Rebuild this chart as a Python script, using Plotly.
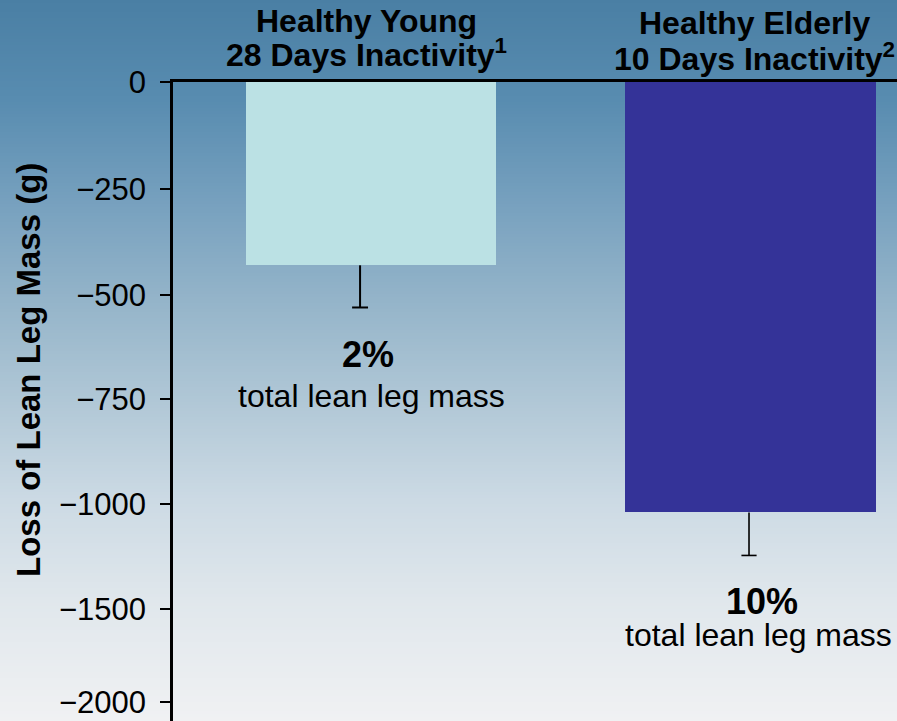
import numpy as np
import plotly.graph_objects as go

# ---------------- data ----------------
groups = ["Healthy Young", "Healthy Elderly"]
durations = ["28 Days Inactivity", "10 Days Inactivity"]
refs = ["1", "2"]
loss_g = [-430, -1040]
err_g = [100, 205]
pct_labels = ["2%", "10%"]
pct_caption = ["total lean leg mass", "total lean leg mass"]
tick_values = [0, -250, -500, -750, -1000, -1500, -2000]
tick_labels = ["0", "\u2212250", "\u2212500", "\u2212750", "\u22121000", "\u22121500", "\u22122000"]

# ---------------- layout constants ----------------
W, H = 897, 721
M_L, M_T = 173, 82
PLOT_W, PLOT_H = W - M_L, H - M_T
# non-linear (piecewise) axis: position of each tick along the axis (axis units = px)
TICK_POS = [0, -107, -213, -317, -422, -527, -620]
X_RANGE = [-0.522, 1.386]
BAR_W = 0.66
ERR_SHIFT = [-0.029, -0.004]
CAP_HALF = [0.021, 0.020]
ERR_THICK = [2, 1.6]
BAR_COLORS = ["#bbe1e4", "#343398"]
FONT = "Arial, Liberation Sans, sans-serif"


def to_axis(v):
    xp = np.array(tick_values[::-1], dtype=float)
    fp = np.array(TICK_POS[::-1], dtype=float)
    return np.interp(np.asarray(v, dtype=float), xp, fp)


def px(p):
    return (p - M_L) / PLOT_W


def py(p):
    return (H - p) / PLOT_H


fig = go.Figure()

xs = list(range(len(groups)))
fig.add_trace(go.Bar(
    x=xs, y=to_axis(loss_g), width=BAR_W,
    marker=dict(color=BAR_COLORS, line=dict(width=0)),
    hoverinfo="skip", showlegend=False,
))

for i in xs:
    tip = to_axis(loss_g[i] - err_g[i])
    top = to_axis(loss_g[i])
    fig.add_trace(go.Scatter(
        x=[i + ERR_SHIFT[i]], y=[tip], mode="markers",
        marker=dict(size=1, opacity=0),
        error_y=dict(type="data", symmetric=False, array=[top - tip], arrayminus=[0],
                     width=0, thickness=ERR_THICK[i], color="black"),
        error_x=dict(type="data", symmetric=True, array=[CAP_HALF[i]],
                     width=0, thickness=ERR_THICK[i], color="black"),
        hoverinfo="skip", showlegend=False,
    ))

# ---------------- background gradient ----------------
stops_px = [0, 100, 200, 300, 400, 500, 600, 721]
stops_rgb = [(74, 127, 164), (88, 140, 176), (118, 160, 190), (148, 180, 201),
             (176, 199, 214), (204, 218, 228), (224, 231, 236), (240, 241, 243)]
shapes = []
step = 3
for y0 in range(0, H, step):
    yc = y0 + step / 2
    rgb = [int(round(np.interp(yc, stops_px, [c[k] for c in stops_rgb]))) for k in range(3)]
    shapes.append(dict(type="rect", xref="paper", yref="paper", layer="below",
                       x0=px(0), x1=px(W), y0=py(y0 + step + 0.5), y1=py(y0),
                       fillcolor="rgb(%d,%d,%d)" % tuple(rgb), line=dict(width=0)))

annotations = []
hdr_y = [(21, 52.5), (22.5, 57)]
hdr_x = [366, 754]
for i in xs:
    annotations.append(dict(text="<b>%s</b>" % groups[i], x=px(hdr_x[i]), y=py(hdr_y[i][0]),
                            xref="paper", yref="paper", showarrow=False,
                            xanchor="center", yanchor="middle",
                            font=dict(size=32, color="black", family=FONT)))
    annotations.append(dict(text="<b>%s<sup>%s</sup></b>" % (durations[i], refs[i]),
                            x=px(hdr_x[i]), y=py(hdr_y[i][1]),
                            xref="paper", yref="paper", showarrow=False,
                            xanchor="center", yanchor="middle",
                            font=dict(size=32, color="black", family=FONT)))

pct_pos = [(368, 354.5, 371.5, 395.5), (761.5, 601.5, 758.5, 635)]
for i in xs:
    x1, y1, x2, y2 = pct_pos[i]
    annotations.append(dict(text="<b>%s</b>" % pct_labels[i], x=px(x1), y=py(y1),
                            xref="paper", yref="paper", showarrow=False,
                            xanchor="center", yanchor="middle",
                            font=dict(size=36, color="black", family=FONT)))
    annotations.append(dict(text=pct_caption[i], x=px(x2), y=py(y2),
                            xref="paper", yref="paper", showarrow=False,
                            xanchor="center", yanchor="middle",
                            font=dict(size=32, color="black", family=FONT)))

annotations.append(dict(text="<b>Loss of Lean Leg Mass (g)</b>", x=px(29), y=py(370),
                        xref="paper", yref="paper", showarrow=False, textangle=-90,
                        xanchor="center", yanchor="middle",
                        font=dict(size=33, color="black", family=FONT)))

fig.update_layout(
    width=W, height=H,
    margin=dict(l=M_L, r=0, t=M_T, b=0, pad=0),
    paper_bgcolor="rgb(240,241,243)",
    plot_bgcolor="rgba(0,0,0,0)",
    shapes=shapes,
    annotations=annotations,
    font=dict(family=FONT, color="black"),
    xaxis=dict(range=X_RANGE, side="top", showline=True, linecolor="black", linewidth=2.6,
               showgrid=False, zeroline=False, showticklabels=False, ticks="",
               fixedrange=True),
    yaxis=dict(range=[-PLOT_H, 0], tickvals=TICK_POS, ticktext=tick_labels,
               ticks="outside", ticklen=10, tickwidth=2.2, tickcolor="black",
               showline=True, linecolor="black", linewidth=2.6,
               showgrid=False, zeroline=False, ticklabelstandoff=8,
               tickfont=dict(size=31, color="black", family=FONT), fixedrange=True),
    bargap=0,
)

fig.write_html("out.html", config={"displayModeBar": False})
